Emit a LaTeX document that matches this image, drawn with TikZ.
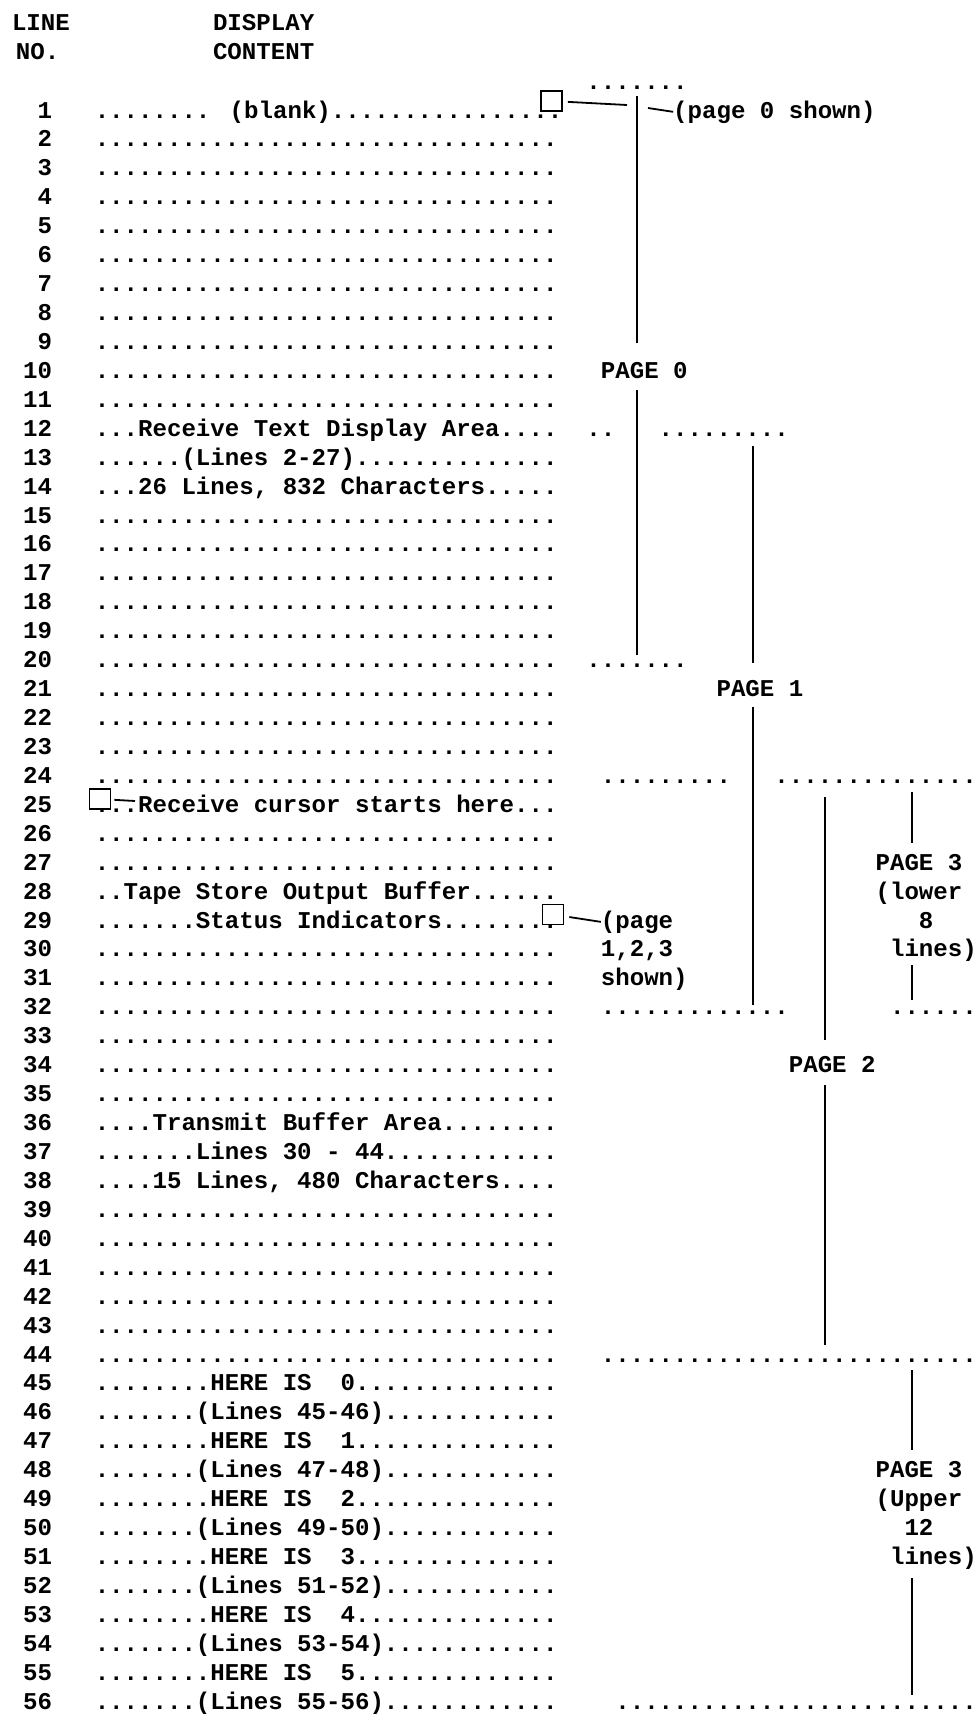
\documentclass[tikz,border=0pt]{standalone}
\usepackage{fontspec}
\newfontfamily\tw{Liberation Mono}
\def\D{................................}
\tikzset{
  txt/.style={anchor=base west, inner sep=0pt, outer sep=0pt,
    font=\tw\bfseries\fontsize{12.05}{14.5}\selectfont},
  num/.style={txt, anchor=base east},
  vl/.style={line width=1.2pt},
  lead/.style={line width=0.9pt},
  cbox/.style={draw, line width=0.9pt, minimum width=10.5pt,
    minimum height=10pt, inner sep=0pt, fill=white},
}
% content line: number, text
\newcommand\LL[2]{%
  \node[txt] (t#1) at (94.77,{118+28.93*(#1-1)}) {#2};
  \node[num] (n#1) at (52,{118+28.93*(#1-1)}) {#1};}
% right text: name, line, column, text
\newcommand\RT[4]{%
  \node[txt] (#1) at ({94.77+14.46*(#3)},{118+28.93*((#2)-1)}) {#4};}
\begin{document}
\begin{tikzpicture}[x=0.5pt,y=-0.5pt]
\fill[white] (0,0) rectangle (974,1715);
\useasboundingbox (0,0) rectangle (974,1715);
% headers
\node[txt] (hline) at (12,30) {LINE};
\node[txt] (hno) at (16,59) {NO.};
\node[txt] (hdisp) at (213,30) {DISPLAY};
\node[txt] (hcont) at (213,59) {CONTENT};
% content lines
\LL{1}{........ (blank)................}
\LL{2}{\D}\LL{3}{\D}\LL{4}{\D}\LL{5}{\D}\LL{6}{\D}
\LL{7}{\D}\LL{8}{\D}\LL{9}{\D}\LL{10}{\D}\LL{11}{\D}
\LL{12}{...Receive Text Display Area....}
\LL{13}{......(Lines 2-27)..............}
\LL{14}{...26 Lines, 832 Characters.....}
\LL{15}{\D}\LL{16}{\D}\LL{17}{\D}\LL{18}{\D}\LL{19}{\D}
\LL{20}{\D}\LL{21}{\D}\LL{22}{\D}\LL{23}{\D}\LL{24}{\D}
\LL{25}{...Receive cursor starts here...}
\LL{26}{\D}\LL{27}{\D}
\LL{28}{..Tape Store Output Buffer......}
\LL{29}{.......Status Indicators........}
\LL{30}{\D}\LL{31}{\D}\LL{32}{\D}\LL{33}{\D}\LL{34}{\D}\LL{35}{\D}
\LL{36}{....Transmit Buffer Area........}
\LL{37}{.......Lines 30 - 44............}
\LL{38}{....15 Lines, 480 Characters....}
\LL{39}{\D}\LL{40}{\D}\LL{41}{\D}\LL{42}{\D}\LL{43}{\D}\LL{44}{\D}
\LL{45}{........HERE IS\ \ 0..............}
\LL{46}{.......(Lines 45-46)............}
\LL{47}{........HERE IS\ \ 1..............}
\LL{48}{.......(Lines 47-48)............}
\LL{49}{........HERE IS\ \ 2..............}
\LL{50}{.......(Lines 49-50)............}
\LL{51}{........HERE IS\ \ 3..............}
\LL{52}{.......(Lines 51-52)............}
\LL{53}{........HERE IS\ \ 4..............}
\LL{54}{.......(Lines 53-54)............}
\LL{55}{........HERE IS\ \ 5..............}
\LL{56}{.......(Lines 55-56)............}
% right side dotted rows and labels
\RT{r0}{0}{34}{.......}
\RT{pz}{1}{40}{(page 0 shown)}
\RT{pg0}{10}{35}{PAGE 0}
\RT{r12a}{12}{34}{..}
\RT{r12b}{12}{39}{.........}
\RT{r20}{20}{34}{.......}
\RT{pg1}{21}{43}{PAGE 1}
\RT{r24a}{24}{35}{.........}
\RT{r24b}{24}{47}{..............}
\RT{pg3a}{27}{54}{PAGE 3}
\RT{lw}{28}{54}{(lower}
\RT{lw8}{29}{57}{8}
\RT{lwl}{30}{55}{lines)}
\RT{pp}{29}{35}{(page}
\RT{pp2}{30}{35}{1,2,3}
\RT{pp3}{31}{35}{shown)}
\RT{r32a}{32}{35}{.............}
\RT{r32b}{32}{55}{......}
\RT{pg2}{34}{48}{PAGE 2}
\RT{r44}{44}{35}{..........................}
\RT{pg3b}{48}{54}{PAGE 3}
\RT{up}{49}{54}{(Upper}
\RT{up12}{50}{56}{12}
\RT{upl}{51}{55}{lines)}
\RT{r56}{56}{36}{.........................}
% cursor boxes
\node[cbox] (b1) at (551.5,101) {};
\node[cbox] (b29) at (553,914.5) {};
\node[cbox] (b25) at (100,799) {};
% leaders
\coordinate (c1a) at (627,105);
\coordinate (c1b) at (648,108);
\coordinate (c25) at (135,801);
\draw[lead, shorten <=2.5pt] (b1) -- (c1a);
\draw[lead] (c1b) -- (pz.west);
\draw[lead, shorten <=2.5pt] (b29) -- (pp.west);
\draw[lead, shorten <=1.5pt] (b25) -- (c25);
% vertical page lines
\coordinate (v0a) at (637,96);   \coordinate (v0b) at (637,343);
\coordinate (v0c) at (637,390);  \coordinate (v0d) at (637,655);
\coordinate (v1a) at (752.7,446); \coordinate (v1b) at (752.7,663);
\coordinate (v1c) at (752.7,707); \coordinate (v1d) at (752.7,1005);
\coordinate (v2a) at (825,797);  \coordinate (v2b) at (825,1040);
\coordinate (v2c) at (825,1085); \coordinate (v2d) at (825,1345);
\coordinate (v3a) at (911.8,792); \coordinate (v3b) at (911.8,843);
\coordinate (v3c) at (911.8,965); \coordinate (v3d) at (911.8,1000);
\coordinate (v4a) at (911.8,1370); \coordinate (v4b) at (911.8,1450);
\coordinate (v4c) at (911.8,1578); \coordinate (v4d) at (911.8,1695);
\draw[vl] (v0a) -- (v0b); \draw[vl] (v0c) -- (v0d);
\draw[vl] (v1a) -- (v1b); \draw[vl] (v1c) -- (v1d);
\draw[vl] (v2a) -- (v2b); \draw[vl] (v2c) -- (v2d);
\draw[vl] (v3a) -- (v3b); \draw[vl] (v3c) -- (v3d);
\draw[vl] (v4a) -- (v4b); \draw[vl] (v4c) -- (v4d);
\end{tikzpicture}
\end{document}
